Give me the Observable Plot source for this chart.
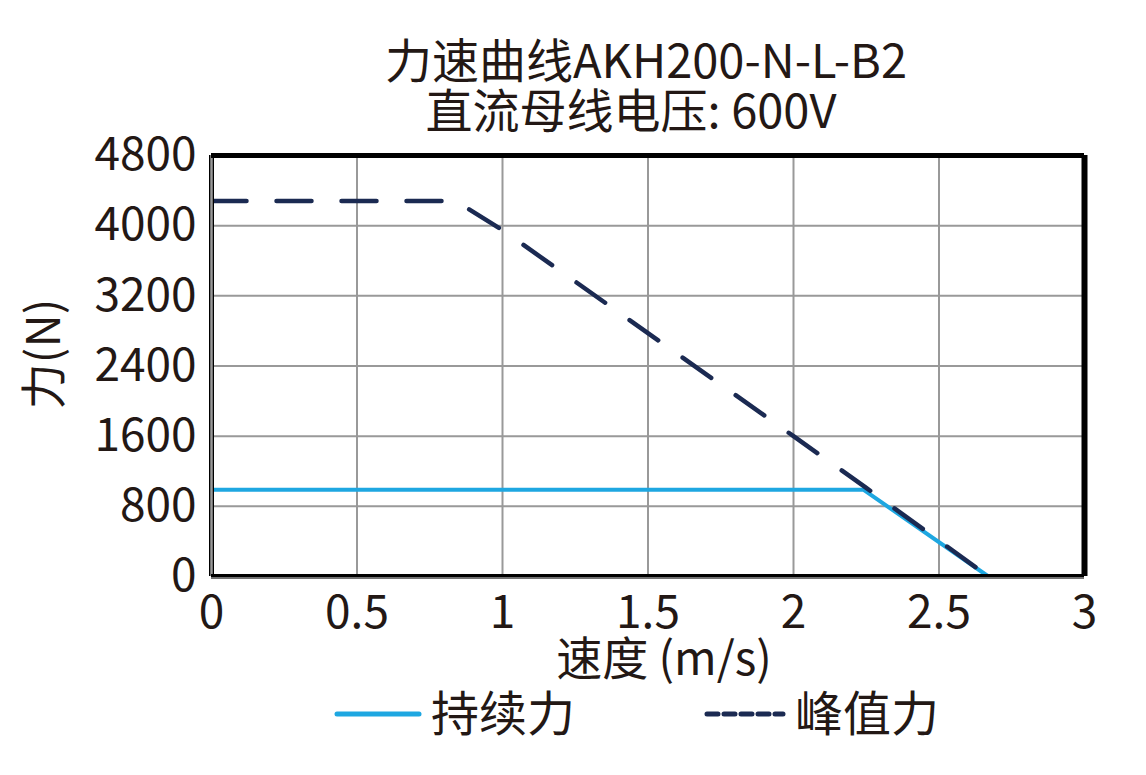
<!DOCTYPE html>
<html><head><meta charset="utf-8">
<script src="https://cdn.jsdelivr.net/npm/d3@7"></script>
<script src="https://cdn.jsdelivr.net/npm/@observablehq/plot@0.6"></script>
<style>
body{margin:0;background:#fff;font-family:"Noto Sans CJK SC","Noto Sans",sans-serif;color:#231815;}
#wrap{position:relative;width:1146px;height:775px;}
.t{position:absolute;left:0;width:1146px;text-align:center;font-size:47px;line-height:50px;white-space:nowrap;z-index:2;}
#chart{position:absolute;left:0;top:100px;}
#legend{position:absolute;left:0;top:682px;width:1146px;height:60px;font-size:48px;}
.li{position:absolute;top:0;display:flex;align-items:center;line-height:56px;}
svg{display:block;}
</style></head>
<body>
<div id="wrap">
<div id="t1" class="t" style="top:33px;padding-left:146px;box-sizing:border-box;"></div>
<div id="t2" class="t" style="top:83px;padding-left:116px;box-sizing:border-box;"></div>
<div id="chart"></div>
<div id="legend"></div>
</div>
<script>
const titleLines = ["力速曲线AKH200-N-L-B2", "直流母线电压: 600V"];
const seriesNames = ["持续力", "峰值力"];
const continuousSpeed = [0, 2.24, 2.67];
const continuousForce = [990, 990, 0];
const peakSpeed = [0, 0.84, 1, 2, 2.25, 2.67];
const peakForce = [4280, 4280, 3950, 1600, 1010, 0];
const xTicks = [0, 0.5, 1, 1.5, 2, 2.5, 3];
const yTicks = [0, 800, 1600, 2400, 3200, 4000, 4800];
const xLabel = "速度 (m/s)";
const yLabel = "力(N)";
const colors = ["#1ea7e1", "#1b2a52"];

document.getElementById("t1").textContent = titleLines[0];
document.getElementById("t2").textContent = titleLines[1];

const cont = continuousSpeed.map((s, i) => ({s, f: continuousForce[i]}));
const peak = peakSpeed.map((s, i) => ({s, f: peakForce[i]}));
const FONT = '"Noto Sans CJK SC","Noto Sans",sans-serif';

const plot = Plot.plot({
  width: 1146,
  height: 600,
  marginLeft: 211,
  marginRight: 62,
  marginTop: 55,
  marginBottom: 124,
  style: {fontFamily: FONT, fontSize: "46px", color: "#231815", background: "transparent", overflow: "visible"},
  x: {domain: [0, 3], ticks: xTicks, label: null},
  y: {domain: [0, 4800], ticks: yTicks, label: null},
  marks: [
    Plot.gridX(xTicks, {stroke: "#999", strokeOpacity: 1, strokeWidth: 2}),
    Plot.gridY(yTicks, {stroke: "#999", strokeOpacity: 1, strokeWidth: 2}),
    Plot.axisX(xTicks, {tickSize: 0, tickPadding: 19, fontSize: 46, tickFormat: d => String(d), fill: "#231815"}),
    Plot.axisY(yTicks, {tickSize: 0, tickPadding: 15, fontSize: 46, tickFormat: d => String(d), fill: "#231815"}),
    Plot.lineY(cont, {x: "s", y: "f", stroke: colors[0], strokeWidth: 4}),
    Plot.lineY(peak, {x: "s", y: "f", stroke: colors[1], strokeWidth: 4.5, strokeDasharray: "35,30", strokeLinecap: "round"}),
    Plot.ruleX([0], {stroke: "#000", strokeWidth: 5}),
    Plot.ruleX([0], {stroke: "#999", strokeWidth: 2.5}),
    Plot.ruleY([0], {stroke: "#000", strokeWidth: 5}),
    Plot.ruleY([0], {stroke: "#999", strokeWidth: 1.5, dy: 1.5}),
    Plot.ruleY([4800], {stroke: "#000", strokeWidth: 5}),
    Plot.ruleX([3], {stroke: "#000", strokeWidth: 6}),
    Plot.text([xLabel], {frameAnchor: "bottom", dy: 98, dx: 16, fontSize: 46, fill: "#231815", text: d => d}),
    Plot.text([yLabel], {frameAnchor: "left", textAnchor: "middle", dx: -166, dy: -12, rotate: -90, fontSize: 46, fill: "#231815", text: d => d})
  ]
});
document.getElementById("chart").appendChild(plot);

const legend = document.getElementById("legend");
const items = [
  {left: 333, dash: null, color: colors[0], name: seriesNames[0], w: 86},
  {left: 703, dash: "11,6", color: colors[1], name: seriesNames[1], w: 80}
];
items.forEach(it => {
  const d = document.createElement("div");
  d.className = "li";
  d.style.left = it.left + "px";
  d.innerHTML = `<svg width="${it.w + 8}" height="20" style="position:relative;top:4px"><line x1="4" y1="10" x2="${it.w}" y2="10" stroke="${it.color}" stroke-width="5" stroke-linecap="round" ${it.dash ? `stroke-dasharray="${it.dash}"` : ""}/></svg><span style="margin-left:4px">${it.name}</span>`;
  legend.appendChild(d);
});
</script>
</body></html>
